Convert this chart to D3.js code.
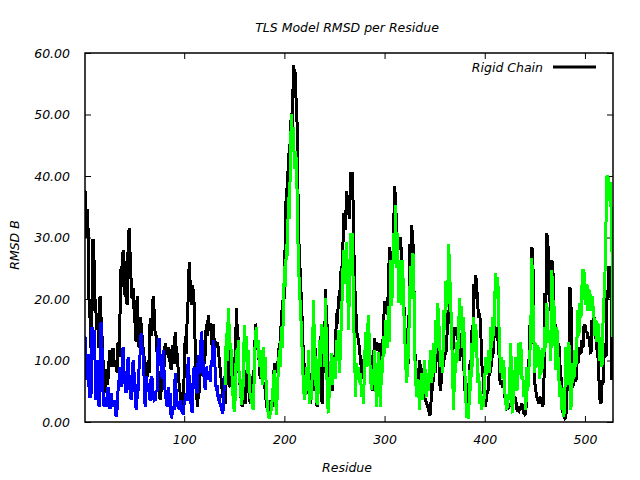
<!DOCTYPE html>
<html><head><meta charset="utf-8">
<script src="https://cdn.jsdelivr.net/npm/d3@7"></script>
<style>body{margin:0;background:#fff}svg text{font-family:"DejaVu Sans",sans-serif;font-style:italic;font-size:12.5px;fill:#000}</style>
</head><body><svg id="c" width="640" height="480"></svg>
<script>
const title = "TLS Model RMSD per Residue";
const xLabel = "Residue";
const yLabel = "RMSD B";
const legendLabel = "Rigid Chain";
const xTicks = [100, 200, 300, 400, 500];
const yTicks = [0, 10, 20, 30, 40, 50, 60];
const xDomain = [1, 528];
const yDomain = [0, 60];
// Rigid chain (black): residues 1..528
const blackStart = 1;
const blackValues = [
37.7,30,34.7,31.5,20,17,12,18,29.7,26.3,20,17.7,15,16.4,12,20.4,17,14,10,6,
4.7,8.6,6,7,10,11.7,9,11,12,10,9,9.5,8,13,10.5,18,25.3,22,28,26,
20.4,22,19,28.2,31.5,27.4,23,20,21.7,18,16,13,20.4,14.4,12,17,16,14,12,10.6,
9,8,7.4,10,8,16.9,14,16,20.4,18,14.4,14,11,8,4.7,3.6,5,9,10.6,9,
12.8,12,11,12.2,10,10,8.5,12.5,11,9.5,14.7,12,11,8.5,6,4.7,3,3.6,2.5,8,
13.9,11,17,20,26,22.5,19,22.3,21.5,19,12.2,8,2.5,4,5,8,10,12.5,11,9.5,
11,16,14,17.4,15,16,14.4,12,16,13,13,12,13,12.2,10,8.5,6.8,5,3.6,4,
3,8.5,6,11.7,6,5.7,9.5,7,10.6,9,7,18.5,15,13.3,6,6.3,3,2.5,3.6,4,
3,8.5,6,6.3,4,3,6.3,5,8.5,7,16,14,11.7,13.3,8.5,7,9.8,7.6,6,6.3,
5,3,2,3.6,1.7,2.5,3.6,2.5,6.3,9.5,8,9.5,8.5,10.6,12.8,11,18.2,16,22,20,
32.3,38,36,43.7,42,47,50.2,48,58,57,56.7,50.2,48,30.4,28,23,20,15.5,10.6,9,
6,5,4.6,6,3.6,3,8,6,5,13.3,11,3,2.5,8.5,7,13.9,3.6,3,11.7,10,
21.6,17,15,5,4,8.5,6.3,5,10.6,9.5,12.2,17.7,16,20.4,19,23.6,25.3,24,34,32,
31.2,37.5,35,34.5,33,40.7,39,40.7,31.8,22.5,20,15,14,13.3,11.7,10,8.5,7,9,11.7,
10,14.7,13,17.1,11.7,10,6.3,5,10,13.6,12,13,11.5,12.8,11.7,10,12.8,11.5,16,19.6,
18,19,17.5,23.6,28.5,27,26.3,24,30.7,38.3,36,31.2,29,30.1,28,30.1,26.3,24,20.4,16,
14,11.7,10,9.5,29,27,32,30,27.4,11.7,10,6.8,6,6.3,10,8.5,6.3,5,8.8,4,
3.5,3,2.5,2,1.1,1.5,6.3,5,9,9.5,8,13.9,12,11.7,6.3,5,8.5,10.6,9,12.2,
11,12.2,18.2,16,19.8,18,12.8,11,13.9,15.5,14,15.5,14,11.7,10,14.4,12.2,11,9.5,5.2,
4.5,6.3,5,2,9.5,8,15,13,22.5,20,23.9,22,18.8,17,17.7,15,9.5,8,5.2,3,
2.5,5.2,4.5,6.8,9.5,8,11.7,10.5,13,15.8,14,15.5,13.5,12.2,6.8,6,6.8,5.5,6.3,4.1,
3.5,2.2,2,2.5,3,2.5,4.1,3.5,3,4.1,3.5,2,1.8,1.7,2.5,2,3,2.5,1.4,1.2,
1.4,6.3,5,9,15.8,14,28.5,27,13.9,6.3,5,4.1,3.5,3,4.1,3.5,3,2.5,4.6,20.9,
19,30.7,29,25.8,19.8,18,26.3,25,18.8,16,15,13.9,12.5,12.8,9.5,8,2,1.5,0.9,0.6,
0.8,6.3,5,8.5,22,20,6.3,5.5,9.5,7.4,6.5,10.6,9.5,11.7,12.2,11,13.3,12,15.5,15.8,
14.5,14.7,13.5,13.9,12.2,11,16.6,15,17.1,14.7,13.5,11.7,10.5,6.8,3.6,3,6.8,6,12.8,11.7,
10.5,21.5,20,25.3,24,21.5,6.8,21.5];
// blue segment: residues 1..141
const blueStart = 1;
const blueValues = [
13.9,6.8,8,11,5.7,4,4.6,15.5,12,15,10,3.6,6,10,2.5,6,16.3,12,4.7,2.5,
4,3.6,2.5,5.7,3,2.2,4.7,3,2.5,3.6,2.5,0.9,2,5.2,7,9,5.7,7,12.2,8,
6,4.7,6,10.6,7.4,5,3.6,5,10,7.9,6,2,4,5.2,9,11,14.4,12,11,7,
2.5,7.4,5,6.3,4.7,3.5,7.4,7,4.7,3.5,3.6,5,5.2,13.3,13.6,10,9,7,11.7,8,
4.7,3.6,2.5,5.7,4,4.7,0.6,1.2,2.5,2,7.9,5,2.5,3,2,3.6,2,1.5,1.4,3,
3.6,4.7,3.5,10.6,7,4.7,2.5,1.5,7.4,9,7,5,4.7,10.9,9,7.9,14.7,13,9,7,
5.2,9,8,6.8,7.9,6.5,10,9,13.3,12,8,5,6,3.5,4.5,2.5,3,1.4,2,6,8];
// green segment: residues 141..528
const greenStart = 141;
const greenValues = [
6,14.4,10,18.5,15,12,11.7,6,3.6,1.7,4,11.7,9,13.3,6.3,7,2.8,4,6.3,15.8,
10,13.9,8,11.7,6.3,4,4,2.5,2,8,13.9,15.5,12,13.3,9,11.7,9.8,6,12.2,7,
10.6,5,3,0.9,0.6,1.5,2,4,6.3,8.5,5,1.1,5,8.5,11.7,9,15.5,12,17.7,25.3,
22,29,27,36.6,33,42.6,50,45,48,41.2,44,42.6,35,25.3,22.5,18,15.5,10,6,3.6,
5,9,5,11.7,3,5,3.6,9,19.8,13.3,9,3.6,2.8,6,13.3,9,16,11,15.5,9,
20.1,11.7,3,1.4,6,8.5,11.2,6,8.5,10.6,7,13.3,10,15,7.9,12,17.3,22,28,22.5,
26,29.3,24,15,22,30.7,27,30.7,17,12,4.1,9.5,7,9,6.3,8,4.1,6,3,9,
14.7,9,15,17.4,11.2,7,5.2,8.5,6,11.7,7,2.5,6,11.4,6,2.5,10,8,13.9,11,
16.6,14.7,12,18.8,13,26.3,18.8,22,30.7,27,35.3,25,30.7,19.3,22,26.3,19,26.3,19.3,14.4,
10,6.3,9,12.2,20,25.3,20,27.4,26.9,12,6.8,4.1,7,5,2,6,8,3.6,6,10,
6,4,8,5,9,11.7,6.3,9,12.8,8,16.6,12,19.3,17,12.8,9,11.7,8,18.2,15,
23,18.8,20,29,24.2,19.8,14,7,2,11.2,8,13,10,16,20.1,15,18.8,12,17,9,
4,0.6,1.5,0.5,8.5,5,12.8,9,17,12,16,12,6.3,8,3,5,2,4,2.5,7,
10.6,7.6,9,11.7,8,15.5,12,17.1,14,20.4,24.2,20,23.6,16.6,11.2,8,10.6,7,10,5,
3,1.9,4,3.6,8,12.8,3,1.4,8.5,6,10.6,5,6.3,12.8,9,13,7,7.4,4,6.8,
2,9,5,8.5,11,15.5,26.6,20,13.9,8,12.8,9,12.5,10,7,11.7,8,12,10.6,15.5,
12,19.3,15,12.8,15,10,24.7,17,19.8,13,8.5,15.5,11,7,4.1,6,2,3,0.9,5,
12.2,7,6,13,8,2,6,9.5,7,11.7,9,13.3,18.2,14,19.3,16.9,22,24.7,24.7,20,
19,22.5,18,21.5,20.9,18,20.5,19,17.1,14,16.6,13,16,13.9,10,11.7,9,16,20,24.2,
32.3,39.9,39.9,36,39,35,28,13.9];

const svg = d3.select("#c");
const m = {l:85, r:613, t:53, b:422};
const x = d3.scaleLinear().domain(xDomain).range([m.l, m.r]);
const y = d3.scaleLinear().domain(yDomain).range([m.b, m.t]);

const toPts = (start, vals) => vals.map((v,i)=>[start + i, v]);
const line = d3.line().x(d=>x(d[0])).y(d=>y(d[1]));

// axes
const fmt = d3.format(".2f");
const gx = svg.append("g").attr("transform",`translate(0,${m.b})`)
  .call(d3.axisBottom(x).tickValues(xTicks).tickSize(-6).tickPadding(13).tickFormat(d3.format("d")));
const gxt = svg.append("g").attr("transform",`translate(0,${m.t})`)
  .call(d3.axisTop(x).tickValues(xTicks).tickSize(-6).tickFormat(""));
const gy = svg.append("g").attr("transform",`translate(${m.l},0)`)
  .call(d3.axisLeft(y).tickValues(yTicks).tickSize(-6).tickPadding(15).tickFormat(fmt));
const gyr = svg.append("g").attr("transform",`translate(${m.r},0)`)
  .call(d3.axisRight(y).tickValues(yTicks).tickSize(-6).tickFormat(""));
[gx,gxt,gy,gyr].forEach(g=>{g.selectAll(".domain").remove();g.selectAll("line").attr("stroke","#000");g.selectAll("text").attr("font-family",null).attr("font-size",null);});

// series (black under, coloured segments on top)
svg.append("clipPath").attr("id","pa").append("rect").attr("x",m.l).attr("y",m.t).attr("width",m.r-m.l).attr("height",m.b-m.t);
const plot = svg.append("g").attr("clip-path","url(#pa)");
const drawSeries = (start, vals, colour) => plot.append("path").datum(toPts(start, vals))
  .attr("d",line).attr("fill","none").attr("stroke",colour).attr("stroke-width",3)
  .attr("stroke-linejoin","miter").attr("stroke-miterlimit",2).attr("shape-rendering","crispEdges");
drawSeries(blackStart, blackValues, "#000000");
drawSeries(blueStart, blueValues, "#0000ff");
drawSeries(greenStart, greenValues, "#00ff00");

// frame
svg.append("rect").attr("x",m.l).attr("y",m.t).attr("width",m.r-m.l).attr("height",m.b-m.t).attr("fill","none").attr("stroke","#000").attr("stroke-width",1.5);

// legend
svg.append("text").attr("x",543).attr("y",72).attr("text-anchor","end").text(legendLabel);
svg.append("line").attr("x1",553).attr("x2",596).attr("y1",67).attr("y2",67).attr("stroke","#000").attr("stroke-width",3);

// titles
svg.append("text").attr("x",347).attr("y",32).attr("text-anchor","middle").text(title);
svg.append("text").attr("x",347).attr("y",472).attr("text-anchor","middle").text(xLabel);
svg.append("text").attr("transform","translate(19,245) rotate(-90)").attr("text-anchor","middle").text(yLabel);
</script></body></html>
